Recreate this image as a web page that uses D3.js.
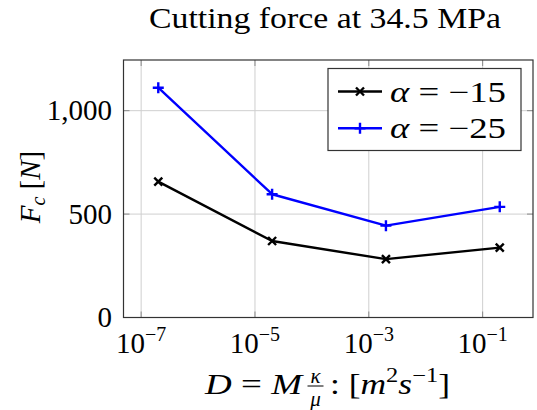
<!DOCTYPE html>
<html><head><meta charset="utf-8">
<script src="https://cdn.jsdelivr.net/npm/d3@7"></script>
<style>body{margin:0;background:#fff}svg{display:block}text{font-family:"Liberation Serif",serif;fill:#000}</style>
</head><body>
<svg id="c" width="537" height="410"></svg>
<script>
const xValues = [2e-7, 2e-5, 2e-3, 2e-1];
const alpha15 = [657, 370, 282, 338];
const alpha25 = [1111, 596, 444, 535];
const seriesNames = ["\u03B1 = \u221215", "\u03B1 = \u221225"];
const xTicks = [1e-7, 1e-5, 1e-3, 1e-1];
const xTickExp = ["\u22127", "\u22125", "\u22123", "\u22121"];
const yTicks = [0, 500, 1000];
const yTickLabels = ["0", "500", "1,000"];

const svg = d3.select("#c");
const L = 123.5, R = 533, T = 60, B = 317.5;
const x = d3.scaleLog().domain([Math.pow(10, -7.31), Math.pow(10, -0.115)]).range([L, R]);
const y = d3.scaleLinear().domain([0, 1245]).range([B, T]);
const FS = 29;

// grid
const g = svg.append("g");
g.selectAll(".gx").data(xTicks).join("line")
  .attr("x1", d => x(d)).attr("x2", d => x(d)).attr("y1", T).attr("y2", B)
  .attr("stroke", "#cfcfcf").attr("stroke-width", 1);
g.selectAll(".gy").data(yTicks).join("line")
  .attr("x1", L).attr("x2", R).attr("y1", d => y(d)).attr("y2", d => y(d))
  .attr("stroke", "#cfcfcf").attr("stroke-width", 1);
// tick marks
const tl = 6, tc = "#8a8a8a";
xTicks.forEach(d => {
  g.append("line").attr("x1", x(d)).attr("x2", x(d)).attr("y1", B).attr("y2", B - tl).attr("stroke", tc);
  g.append("line").attr("x1", x(d)).attr("x2", x(d)).attr("y1", T).attr("y2", T + tl).attr("stroke", tc);
});
yTicks.forEach(d => {
  g.append("line").attr("x1", L).attr("x2", L + tl).attr("y1", y(d)).attr("y2", y(d)).attr("stroke", tc);
  g.append("line").attr("x1", R).attr("x2", R - tl).attr("y1", y(d)).attr("y2", y(d)).attr("stroke", tc);
});

// axes box
svg.append("rect").attr("x", L).attr("y", T).attr("width", R - L).attr("height", B - T)
  .attr("fill", "none").attr("stroke", "#333").attr("stroke-width", 1.2);

// x tick labels
xTicks.forEach((d, i) => {
  const t = svg.append("text").attr("x", x(d)).attr("y", 353).attr("text-anchor", "middle").attr("font-size", FS);
  t.append("tspan").text("10");
  t.append("tspan").attr("font-size", 20).attr("dy", -12).text(xTickExp[i]);
});
// y tick labels
yTicks.forEach((d, i) => {
  svg.append("text").attr("x", 112).attr("y", y(d)).attr("dy", "0.33em").attr("text-anchor", "end")
    .attr("font-size", FS).text(yTickLabels[i]);
});

// title
svg.append("text").attr("x", 325).attr("y", 28).attr("text-anchor", "middle").attr("font-size", FS)
  .attr("textLength", 352).attr("lengthAdjust", "spacingAndGlyphs").text("Cutting force at 34.5 MPa");

// y label
const yl = svg.append("text").attr("transform", "translate(40,187) rotate(-90)").attr("text-anchor", "middle").attr("font-size", FS);
yl.append("tspan").attr("font-style", "italic").text("F");
yl.append("tspan").attr("font-style", "italic").attr("font-size", 20).attr("dy", 5).text("c");
yl.append("tspan").attr("dy", -5).text(" [");
yl.append("tspan").attr("font-style", "italic").text("N");
yl.append("tspan").text("]");

// x label
const base = 394;
const t1 = svg.append("text").attr("x", 205).attr("y", base).attr("font-size", FS)
  .attr("textLength", 97).attr("lengthAdjust", "spacingAndGlyphs");
t1.append("tspan").attr("font-style", "italic").text("D");
t1.append("tspan").text(" = ");
t1.append("tspan").attr("font-style", "italic").text("M");
const fcx = 315.5;
svg.append("text").attr("x", fcx).attr("y", base - 11).attr("font-size", 21).attr("font-style", "italic").attr("text-anchor", "middle").text("\u03BA");
svg.append("text").attr("x", fcx).attr("y", base + 12).attr("font-size", 21).attr("font-style", "italic").attr("text-anchor", "middle").text("\u03BC");
svg.append("line").attr("x1", fcx - 8).attr("x2", fcx + 8).attr("y1", base - 8).attr("y2", base - 8).attr("stroke", "#000").attr("stroke-width", 1);
const t2 = svg.append("text").attr("x", 330).attr("y", base).attr("font-size", FS)
  .attr("textLength", 120).attr("lengthAdjust", "spacingAndGlyphs");
t2.append("tspan").text(": [");
t2.append("tspan").attr("font-style", "italic").text("m");
t2.append("tspan").attr("font-size", 20).attr("dy", -12).text("2");
t2.append("tspan").attr("font-style", "italic").attr("dy", 12).text("s");
t2.append("tspan").attr("font-size", 20).attr("dy", -12).text("\u22121");
t2.append("tspan").attr("dy", 12).text("]");

// series
const series = [
  {vals: alpha15, color: "#000", mark: "x"},
  {vals: alpha25, color: "#0000ff", mark: "+"}
];
const line = d3.line().x((d, i) => x(xValues[i])).y(d => y(d));
function marker(sel, type, cx, cy, color) {
  const s = type === "x" ? 4 : 5.5;
  if (type === "x") {
    sel.append("path").attr("d", `M${cx - s},${cy - s}L${cx + s},${cy + s}M${cx - s},${cy + s}L${cx + s},${cy - s}`)
      .attr("stroke", color).attr("stroke-width", 2.4).attr("fill", "none");
  } else {
    sel.append("path").attr("d", `M${cx - s},${cy}L${cx + s},${cy}M${cx},${cy - s}L${cx},${cy + s}`)
      .attr("stroke", color).attr("stroke-width", 2.4).attr("fill", "none");
  }
}
series.forEach(s => {
  svg.append("path").datum(s.vals).attr("d", line).attr("fill", "none").attr("stroke", s.color)
    .attr("stroke-width", 2.4).attr("stroke-linejoin", "round");
  s.vals.forEach((v, i) => marker(svg, s.mark, x(xValues[i]), y(v), s.color));
});

// legend
const lg = svg.append("g");
lg.append("rect").attr("x", 328).attr("y", 68.5).attr("width", 193).attr("height", 82)
  .attr("fill", "#fff").attr("stroke", "#333").attr("stroke-width", 1.2);
series.forEach((s, i) => {
  const cy = 91.5 + i * 36.7;
  lg.append("line").attr("x1", 338).attr("x2", 382).attr("y1", cy).attr("y2", cy).attr("stroke", s.color).attr("stroke-width", 2.4);
  marker(lg, s.mark, 360, cy, s.color);
  const t = lg.append("text").attr("x", 390).attr("y", cy).attr("dy", "0.35em").attr("font-size", FS)
    .attr("textLength", 116).attr("lengthAdjust", "spacingAndGlyphs");
  t.append("tspan").attr("font-style", "italic").text("\u03B1");
  t.append("tspan").text(seriesNames[i].slice(1));
});
</script>
</body></html>
